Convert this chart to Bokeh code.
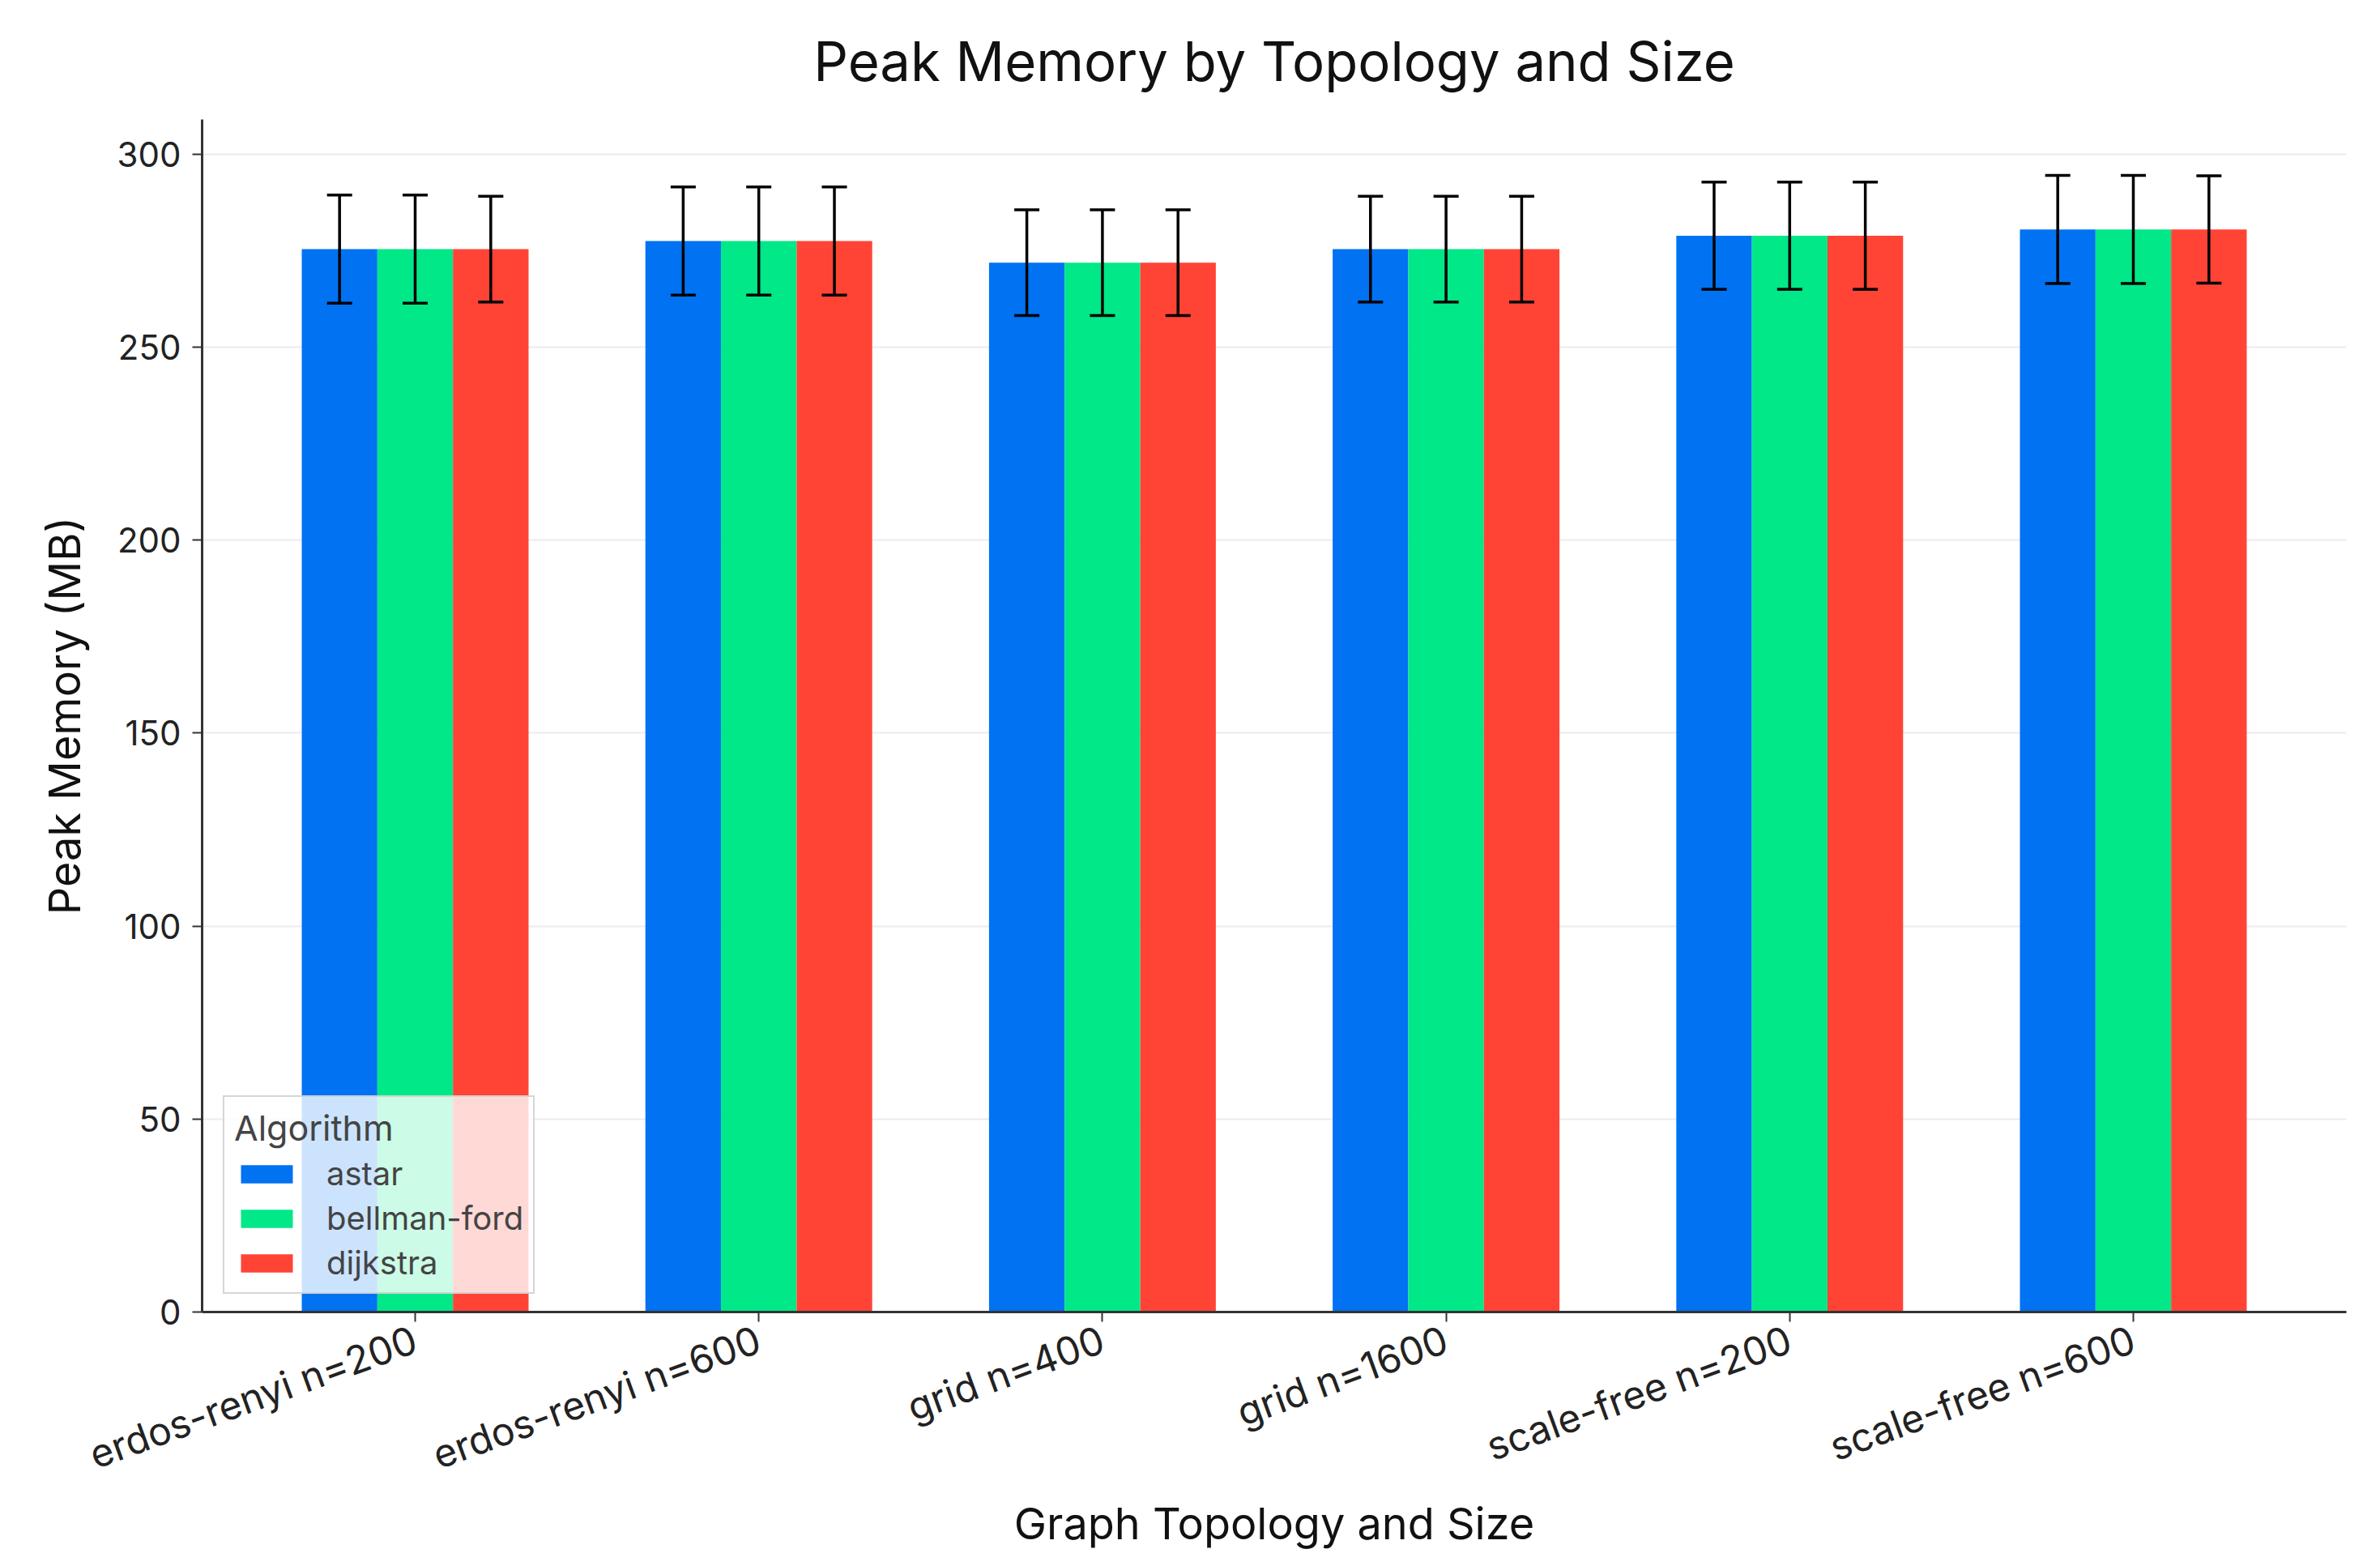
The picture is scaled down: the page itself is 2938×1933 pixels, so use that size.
from bokeh.plotting import figure
from bokeh.models import ColumnDataSource, Range1d, FixedTicker, Whisker, TeeHead, Legend, LegendItem
from bokeh.embed import file_html
from bokeh.resources import INLINE
import math

categories = ["erdos-renyi n=200", "erdos-renyi n=600", "grid n=400",
              "grid n=1600", "scale-free n=200", "scale-free n=600"]
algorithms = ["astar", "bellman-ford", "dijkstra"]
astar_mean = [275.4, 277.5, 271.9, 275.4, 278.9, 280.5]
bellman_mean = [275.4, 277.5, 271.9, 275.4, 278.9, 280.5]
dijkstra_mean = [275.4, 277.5, 271.9, 275.4, 278.9, 280.5]
astar_err = [14.0, 14.0, 13.7, 13.7, 13.9, 14.0]
bellman_err = [14.0, 14.0, 13.7, 13.7, 13.9, 14.0]
dijkstra_err = [13.7, 14.0, 13.7, 13.7, 13.9, 13.9]
colors = ["#0072F2", "#00E887", "#FF4436"]

means = [astar_mean, bellman_mean, dijkstra_mean]
errs = [astar_err, bellman_err, dijkstra_err]
bar_w = 0.22
offsets = [-bar_w, 0.0, bar_w]

FONT = "Inter"
p = figure(width=2920, height=1915, output_backend="svg", toolbar_location=None,
           x_range=Range1d(-0.62, 5.62), y_range=Range1d(0, 309),
           title="Peak Memory by Topology and Size",
           min_border_left=249, min_border_right=24, min_border_top=146, min_border_bottom=294)

p.title.text_font = FONT
p.title.text_font_size = "67px"
p.title.text_font_style = "normal"
p.title.align = "center"
p.title.text_color = "#111111"
p.title.standoff = 64

items = []
for i, alg in enumerate(algorithms):
    xs = [k + offsets[i] for k in range(len(categories))]
    src = ColumnDataSource(dict(x=xs, top=means[i],
                                upper=[m + e for m, e in zip(means[i], errs[i])],
                                lower=[m - e for m, e in zip(means[i], errs[i])]))
    r = p.vbar(x="x", top="top", bottom=0, width=bar_w, source=src,
               fill_color=colors[i], line_color=None)
    items.append(LegendItem(label=alg, renderers=[r]))
    w = Whisker(source=src, base="x", upper="upper", lower="lower", dimension="height",
                line_color="black", line_width=3.5, level="overlay",
                upper_head=TeeHead(size=31, line_width=3.5, line_color="black"),
                lower_head=TeeHead(size=31, line_width=3.5, line_color="black"))
    p.add_layout(w)

p.xaxis.ticker = FixedTicker(ticks=list(range(len(categories))))
p.xaxis.major_label_overrides = {k: c for k, c in enumerate(categories)}
p.xaxis.major_label_orientation = math.radians(20)
p.yaxis.ticker = FixedTicker(ticks=[0, 50, 100, 150, 200, 250, 300])

for ax in (p.xaxis, p.yaxis):
    ax.major_label_text_font = FONT
    ax.major_label_text_color = "#222222"
    ax.axis_label_text_font = FONT
    ax.axis_label_text_font_size = "54px"
    ax.axis_label_text_font_style = "normal"
    ax.axis_label_text_color = "#111111"
    ax.axis_line_color = "#333333"
    ax.axis_line_width = 3
    ax.major_tick_line_color = "#333333"
    ax.major_tick_line_width = 2
    ax.major_tick_out = 12
    ax.major_tick_in = 0
    ax.minor_tick_line_color = None
    ax.major_label_standoff = 14

p.xaxis.major_label_standoff = 20
p.xaxis.major_label_text_font_size = "48px"
p.yaxis.major_label_text_font_size = "42px"
p.xaxis.axis_label = "Graph Topology and Size"
p.yaxis.axis_label = "Peak Memory (MB)"
p.xaxis.axis_label_standoff = -8
p.yaxis.axis_label_standoff = 30

p.xgrid.grid_line_color = None
p.ygrid.grid_line_color = "#ececf0"
p.ygrid.grid_line_width = 2
p.outline_line_color = None

legend = Legend(items=items, title="Algorithm", location=(26, 22), margin=0)
legend.title_text_font = FONT
legend.title_text_font_size = "43px"
legend.title_text_font_style = "normal"
legend.title_standoff = 6
legend.label_text_font = FONT
legend.label_text_font_size = "40px"
legend.glyph_width = 80
legend.glyph_height = 28
legend.label_standoff = 34
legend.label_height = 44
legend.spacing = 6
legend.padding = 12
legend.background_fill_color = "white"
legend.background_fill_alpha = 0.8
legend.border_line_color = "#cccccc"
legend.border_line_width = 2
legend.border_line_alpha = 0.8
p.add_layout(legend, "center")

open("out.html", "w").write(file_html(p, INLINE))
